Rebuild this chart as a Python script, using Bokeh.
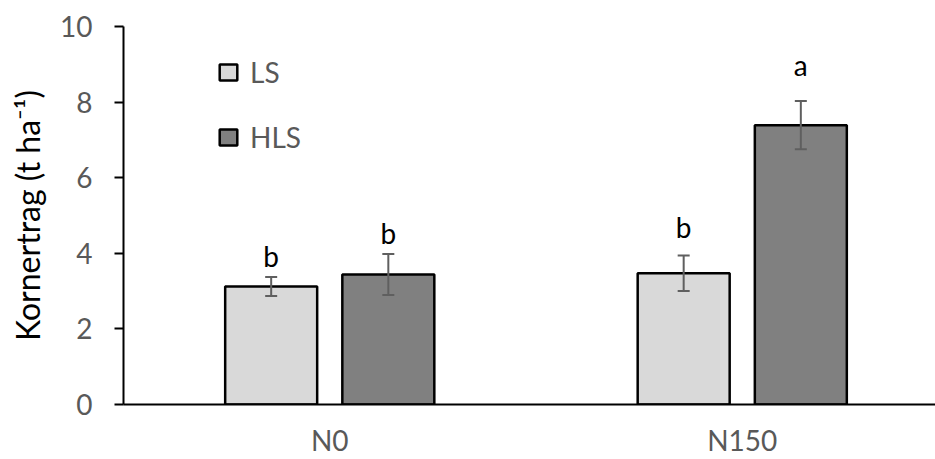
from bokeh.plotting import figure
from bokeh.models import Range1d, FixedTicker, ColumnDataSource, Whisker, TeeHead, Legend, LegendItem
from bokeh.embed import file_html
from bokeh.resources import INLINE
from bokeh.core.properties import value

# ---- data ----
treatments = ["N0", "N150"]
series = ["LS", "HLS"]
ls_mean = [3.12, 3.47]
hls_mean = [3.44, 7.39]
ls_err = [0.25, 0.47]
hls_err = [0.54, 0.64]
ls_letters = ["b", "b"]
hls_letters = ["b", "a"]
y_ticks = [0, 2, 4, 6, 8, 10]

# ---- styles ----
FONT = "Lato"
LS_COLOR = "#d9d9d9"
HLS_COLOR = "#808080"
ERR_COLOR = "#5f5f5f"
TICK_COLOR = "#595959"
BAR_W = 0.223
OFFSET = 0.142
LETTER_SHIFT = 12
ls_gap_px = [9, 17]
hls_gap_px = [9, 24]

CAT_PX = 412.5
W, H = 935, 459
LEFT, TOP, BOTTOM = 123, 26, 54
FRAME_W = W - LEFT

p = figure(width=W, height=H, output_backend="svg", toolbar_location=None,
           x_range=Range1d(0, FRAME_W / CAT_PX), y_range=Range1d(0, 10),
           min_border_left=LEFT, min_border_right=0, min_border_top=TOP,
           min_border_bottom=BOTTOM)

base = [i + 0.5 for i in range(len(treatments))]

def make_src(means, errs, letters, gaps, sign):
    xs = [b + sign * OFFSET for b in base]
    return ColumnDataSource(dict(
        x=xs, top=means,
        upper=[m + e for m, e in zip(means, errs)],
        lower=[m - e for m, e in zip(means, errs)],
        letter=letters,
        yoff=[-(g + LETTER_SHIFT) for g in gaps],
    ))

src_ls = make_src(ls_mean, ls_err, ls_letters, ls_gap_px, -1)
src_hls = make_src(hls_mean, hls_err, hls_letters, hls_gap_px, +1)

r_ls = p.vbar(x="x", top="top", width=BAR_W, bottom=0, source=src_ls,
              fill_color=LS_COLOR, line_color="black", line_width=2.5)
r_hls = p.vbar(x="x", top="top", width=BAR_W, bottom=0, source=src_hls,
               fill_color=HLS_COLOR, line_color="black", line_width=2.5)

for src in (src_ls, src_hls):
    w = Whisker(source=src, base="x", upper="upper", lower="lower",
                line_color=ERR_COLOR, line_width=2, level="overlay",
                upper_head=TeeHead(size=12, line_color=ERR_COLOR, line_width=2),
                lower_head=TeeHead(size=12, line_color=ERR_COLOR, line_width=2))
    p.add_layout(w)
    p.text(x="x", y="upper", text="letter", y_offset="yoff", source=src,
           text_align="center", text_baseline="alphabetic",
           text_font=value(FONT), text_font_size="28px", text_color="black")

legend = Legend(items=[LegendItem(label=series[0], renderers=[r_ls]),
                       LegendItem(label=series[1], renderers=[r_hls])],
                location=(94, 250), orientation="vertical",
                border_line_color=None, background_fill_alpha=0,
                padding=0, margin=0, spacing=31,
                glyph_width=22, glyph_height=20, label_standoff=11,
                label_text_font=FONT, label_text_font_size="28px",
                label_text_color=TICK_COLOR, label_height=20)
p.add_layout(legend)

# axes
p.xaxis.ticker = FixedTicker(ticks=base)
p.xaxis.major_label_overrides = {b: t for b, t in zip(base, treatments)}
p.xaxis.major_tick_line_color = None
p.xaxis.major_tick_in = 0
p.xaxis.major_tick_out = 0
p.xaxis.minor_tick_line_color = None
p.xaxis.axis_line_color = "black"
p.xaxis.axis_line_width = 2
p.xaxis.major_label_text_font = FONT
p.xaxis.major_label_text_font_size = "28px"
p.xaxis.major_label_text_color = TICK_COLOR
p.xaxis.major_label_standoff = 18

p.yaxis.ticker = FixedTicker(ticks=y_ticks)
p.yaxis.minor_tick_line_color = None
p.yaxis.axis_line_color = "black"
p.yaxis.axis_line_width = 2
p.yaxis.major_tick_line_color = "black"
p.yaxis.major_tick_line_width = 2
p.yaxis.major_tick_in = 0
p.yaxis.major_tick_out = 9
p.yaxis.major_label_text_font = FONT
p.yaxis.major_label_text_font_size = "28px"
p.yaxis.major_label_text_color = TICK_COLOR
p.yaxis.major_label_standoff = 22
p.yaxis.axis_label = "Kornertrag (t ha\u207b\u00b9)"
p.yaxis.axis_label_text_font = FONT
p.yaxis.axis_label_text_font_size = "32px"
p.yaxis.axis_label_text_font_style = "normal"
p.yaxis.axis_label_text_color = "black"
p.yaxis.axis_label_standoff = 10

p.xgrid.grid_line_color = None
p.ygrid.grid_line_color = None
p.outline_line_color = None
p.background_fill_color = "white"
p.border_fill_color = "white"

open("out.html", "w").write(file_html(p, INLINE))
